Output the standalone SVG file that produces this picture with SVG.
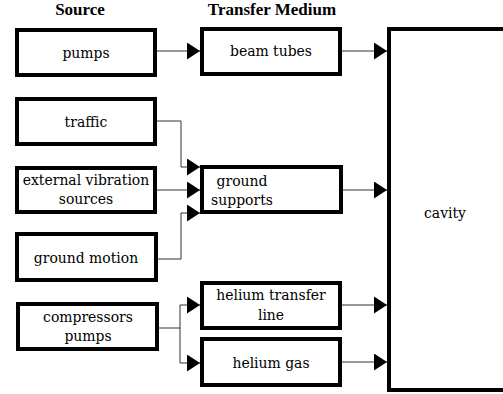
<svg xmlns="http://www.w3.org/2000/svg" width="503" height="394" viewBox="0 0 503 394">
  <style>
    .box { fill: #ffffff; stroke: #000000; stroke-width: 4; }
    .lbl { font-family: 'DejaVu Serif Condensed', 'DejaVu Serif', serif; font-size: 15.5px; fill: #000000; text-anchor: middle; }
    .head { font-family: 'Liberation Serif', 'Times New Roman', serif; font-size: 17px; font-weight: bold; fill: #000000; text-anchor: middle; }
    .wire { fill: none; stroke: #333333; stroke-width: 1; }
    .tip { marker-end: url(#arrow); }
  </style>
  <defs>
    <marker id="arrow" markerUnits="userSpaceOnUse" markerWidth="13" markerHeight="17" refX="13" refY="8.5" orient="auto">
      <path d="M0,0 L13,8.5 L0,17 Z" fill="#000000"/>
    </marker>
  </defs>

  <!-- column headings -->
  <text class="head" x="80" y="15">Source</text>
  <text class="head" x="272" y="15">Transfer Medium</text>

  <!-- connectors -->
  <g id="connectors">
    <path class="wire tip" d="M157,51 H200"/>
    <path class="wire tip" d="M342,51 H387"/>
    <path class="wire tip" d="M157,121 H181 V167 H200"/>
    <path class="wire tip" d="M157,190 H200"/>
    <path class="wire tip" d="M157,259 H181 V213 H200"/>
    <path class="wire tip" d="M343,190 H387"/>
    <path class="wire" d="M159,328 H180 M180,305 V363"/>
    <path class="wire tip" d="M180,305 H200"/>
    <path class="wire tip" d="M180,363 H200"/>
    <path class="wire tip" d="M342,305 H387"/>
    <path class="wire tip" d="M342,362 H387"/>
  </g>

  <!-- sources -->
  <g id="pumps">
    <rect class="box" x="17" y="30" width="138" height="45"/>
    <text class="lbl" x="86" y="58">pumps</text>
  </g>
  <g id="traffic">
    <rect class="box" x="17" y="99" width="138" height="45"/>
    <text class="lbl" x="86" y="127">traffic</text>
  </g>
  <g id="external-vibration">
    <rect class="box" x="17" y="168" width="138" height="44"/>
    <text class="lbl" x="86" y="185">external vibration</text>
    <text class="lbl" x="86" y="203.5">sources</text>
  </g>
  <g id="ground-motion">
    <rect class="box" x="17" y="234" width="139" height="46"/>
    <text class="lbl" x="86" y="263">ground motion</text>
  </g>
  <g id="compressors">
    <rect class="box" x="18" y="304" width="139" height="45"/>
    <text class="lbl" x="88" y="322">compressors</text>
    <text class="lbl" x="88" y="340.5">pumps</text>
  </g>

  <!-- transfer media -->
  <g id="beam-tubes">
    <rect class="box" x="202" y="29" width="138" height="45"/>
    <text class="lbl" x="271" y="56">beam tubes</text>
  </g>
  <g id="ground-supports">
    <rect class="box" x="202" y="167" width="139" height="45"/>
    <text class="lbl" x="242" y="186" text-anchor="start">ground</text>
    <text class="lbl" x="242" y="205" text-anchor="start">supports</text>
  </g>
  <g id="helium-transfer-line">
    <rect class="box" x="202" y="283" width="138" height="45"/>
    <text class="lbl" x="271" y="300">helium transfer</text>
    <text class="lbl" x="271" y="320">line</text>
  </g>
  <g id="helium-gas">
    <rect class="box" x="202" y="339" width="138" height="46"/>
    <text class="lbl" x="271" y="368">helium gas</text>
  </g>

  <!-- receiver -->
  <g id="cavity">
    <rect class="box" x="389" y="29" width="130" height="361"/>
    <text class="lbl" x="445" y="218">cavity</text>
  </g>
</svg>
